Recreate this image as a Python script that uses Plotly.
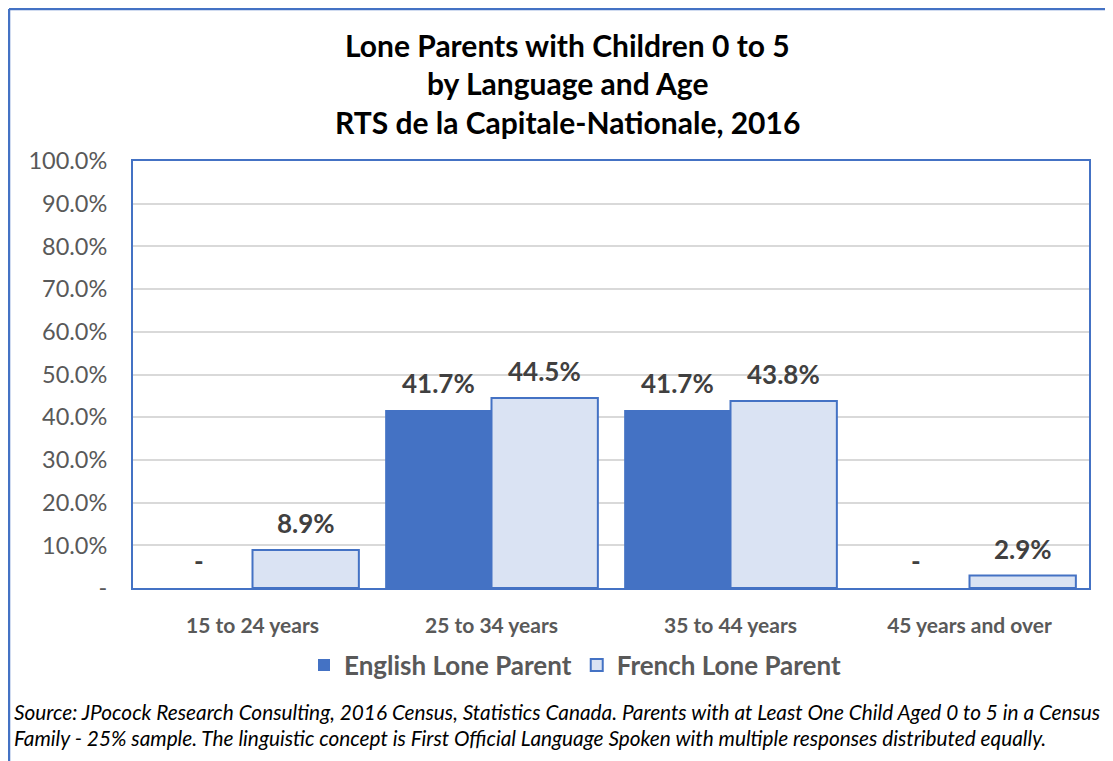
import plotly.graph_objects as go

categories = ["15 to 24 years", "25 to 34 years", "35 to 44 years", "45 years and over"]
english = [0.0, 41.7, 41.7, 0.0]
french = [8.9, 44.5, 43.8, 2.9]
series_names = ["English Lone Parent", "French Lone Parent"]
y_ticks = [0, 10, 20, 30, 40, 50, 60, 70, 80, 90, 100]
y_ticktext = ["-"] + [f"{v:.1f}%" for v in y_ticks[1:]]
title_lines = ["Lone Parents with Children 0 to 5", "by Language and Age", "RTS de la Capitale-Nationale, 2016"]
source_lines = [
    "Source: JPocock Research Consulting, 2016 Census, Statistics Canada. Parents with at Least One Child Aged 0 to 5 in a Census",
    "Family - 25% sample. The linguistic concept is First Official Language Spoken with multiple responses distributed equally.",
]

OFF = 8  # page body margin
W, H = 1113 - OFF, 761 - OFF
L, R, T, B = 133 - OFF, 1089 - OFF, 161 - OFF, 588 - OFF
BLUE = "#4472C4"
LIGHT = "#DAE3F3"
FONT = "Lato"

def px_x(p):
    return (p - OFF - L) / (R - L)

def px_y(p):
    return (B - (p - OFF)) / (B - T)

fig = go.Figure()
fig.add_trace(go.Bar(x=categories, y=english, name=series_names[0],
                     marker=dict(color=BLUE, line=dict(color=BLUE, width=0))))
fig.add_trace(go.Bar(x=categories, y=french, name=series_names[1],
                     marker=dict(color=LIGHT, line=dict(color=BLUE, width=2))))

annotations = []
bar_px = (R - L) / len(categories) * (1 - 0.11) / 2
for vals, sign in ((english, -1), (french, 1)):
    for c, v in zip(categories, vals):
        annotations.append(dict(
            x=c, y=v, xref="x", yref="y", text=("-" if v == 0 else f"{v:.1f}%"),
            showarrow=False, xshift=sign * bar_px / 2, yshift=27, yanchor="middle",
            font=dict(family=FONT, size=26, color="#404040", weight="bold")))

for line, ypx in zip(title_lines, [45, 83, 122]):
    annotations.append(dict(x=px_x(567), y=px_y(ypx), xref="paper", yref="paper",
                            text=f"<b>{line}</b>", showarrow=False, xanchor="center", yanchor="middle",
                            font=dict(family=FONT, size=30, color="#000000")))

for line, ypx in zip(source_lines, [711, 737]):
    annotations.append(dict(x=px_x(12), y=px_y(ypx), xref="paper", yref="paper",
                            text=f"<i>{line}</i>", showarrow=False, xanchor="left", yanchor="middle",
                            font=dict(family=FONT, size=20.8, color="#000000")))

shapes = [
    dict(type="line", xref="paper", yref="paper", x0=px_x(9), x1=px_x(9), y0=px_y(9), y1=px_y(800),
         line=dict(color=BLUE, width=2.5)),
    dict(type="line", xref="paper", yref="paper", x0=px_x(9), x1=px_x(1200), y0=px_y(9), y1=px_y(9),
         line=dict(color=BLUE, width=2.5)),
]

fig.update_layout(
    width=W, height=H,
    margin=dict(l=L, r=W - R, t=T, b=H - B, pad=0),
    paper_bgcolor="white", plot_bgcolor="white",
    barmode="group", bargap=0.11, bargroupgap=0,
    showlegend=True,
    legend=dict(orientation="h", x=px_x(575), y=px_y(665), xanchor="center", yanchor="middle",
                font=dict(family=FONT, size=26, color="#595959", weight="bold"), traceorder="normal"),
    annotations=annotations, shapes=shapes,
    font=dict(family=FONT),
)
fig.update_xaxes(showline=True, mirror=True, linecolor=BLUE, linewidth=2,
                 tickfont=dict(family=FONT, size=21, color="#595959", weight="bold"),
                 ticklabelstandoff=18, showgrid=False)
fig.update_yaxes(range=[0, 100], tickvals=y_ticks, ticktext=y_ticktext,
                 showline=True, mirror=True, linecolor=BLUE, linewidth=2,
                 gridcolor="#D9D9D9", gridwidth=1.5, zeroline=False,
                 tickfont=dict(family=FONT, size=23.5, color="#595959"),
                 ticklabelstandoff=19)

fig.write_html("out.html")
